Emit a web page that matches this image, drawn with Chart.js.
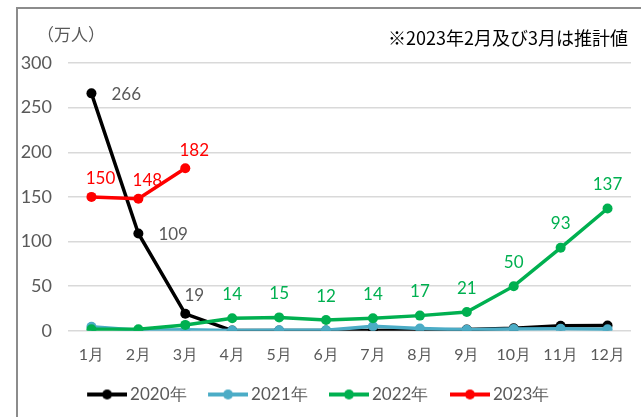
<!DOCTYPE html>
<html>
<head>
<meta charset="utf-8">
<script src="https://cdn.jsdelivr.net/npm/chart.js@4"></script>
<style>
  body { margin: 0; background: #fff; }
  #wrap { position: relative; width: 641px; height: 417px; overflow: hidden; }
  #frame { position: absolute; left: 16px; top: 7px; width: 700px; height: 500px; border: 2px solid #8c8c8c; box-sizing: border-box; }
  #unit { position: absolute; left: 37px; top: 21px; font: 17px "Noto Sans CJK JP"; color: #595959; }
  #note { position: absolute; right: 13px; top: 24px; font: 18px "Noto Sans CJK JP"; color: #000; }
  canvas { position: absolute; left: 0; top: 0; }
</style>
</head>
<body>
<div id="wrap">
  <div id="frame"></div>
  <canvas id="chart" width="641" height="417"></canvas>
  <div id="unit">（万人）</div>
  <div id="note">※2023年2月及び3月は推計値</div>
</div>
<script>
// Data
const months = ['1月', '2月', '3月', '4月', '5月', '6月', '7月', '8月', '9月', '10月', '11月', '12月'];
const y2020 = [266, 109, 19, 0.3, 0.2, 0.3, 0.4, 0.9, 1.4, 2.8, 5.7, 5.8];
const y2021 = [4.6, 0.7, 1.2, 0.4, 0.6, 0.6, 5.1, 2.6, 1.2, 1.9, 2.2, 1.8];
const y2022 = [1.7, 1.7, 6.6, 14, 15, 12, 14, 17, 21, 50, 93, 137];
const y2023 = [150, 148, 182];
const yTicks = [0, 50, 100, 150, 200, 250, 300];

const series = [
    { label: '2020年', data: y2020, color: '#000000' },
    { label: '2021年', data: y2021, color: '#4bacc6' },
    { label: '2022年', data: y2022, color: '#00b050' },
    { label: '2023年', data: y2023, color: '#ff0000' }
];

// which points get a value label, and where
const labelRules = {
    0: { color: '#595959', show: i => i < 3, pos: i => (i < 2 ? 'right' : 'aboveRight') },
    2: { color: '#00b050', show: i => i >= 3, pos: () => 'above' },
    3: { color: '#ff0000', show: () => true, pos: () => 'aboveRight' }
};

// legend marker: line with a dot (wider than the legend box so it sits close to the text)
function makeMarker(color) {
    const c = document.createElement('canvas');
    c.width = 51; c.height = 12;
    const g = c.getContext('2d');
    g.strokeStyle = color;
    g.lineWidth = 4;
    g.beginPath(); g.moveTo(11, 6); g.lineTo(51, 6); g.stroke();
    g.fillStyle = color;
    g.beginPath(); g.arc(31, 6, 5, 0, Math.PI * 2); g.fill();
    return c;
}

const valueLabels = {
    id: 'valueLabels',
    afterDatasetsDraw(chart) {
        const ctx = chart.ctx;
        ctx.save();
        ctx.font = '17px Lato';
        ctx.textBaseline = 'middle';
        Object.keys(labelRules).forEach(k => {
            const rule = labelRules[k];
            const meta = chart.getDatasetMeta(+k);
            meta.data.forEach((pt, i) => {
                if (!rule.show(i)) return;
                const v = chart.data.datasets[k].data[i];
                const p = rule.pos(i);
                ctx.fillStyle = rule.color;
                if (p === 'right') {
                    ctx.textAlign = 'left';
                    ctx.fillText(v, pt.x + 20, pt.y + 1);
                } else if (p === 'aboveRight') {
                    ctx.textAlign = 'center';
                    ctx.fillText(v, pt.x + 9, pt.y - 18);
                } else {
                    ctx.textAlign = 'center';
                    ctx.fillText(v, pt.x, pt.y - 24);
                }
            });
        });
        ctx.restore();
    }
};

const ctx = document.getElementById('chart').getContext('2d');
const chart = new Chart(ctx, {
    type: 'line',
    data: {
        labels: months,
        datasets: series.map((s, i) => ({
            label: s.label,
            data: s.data,
            borderColor: s.color,
            backgroundColor: s.color,
            borderWidth: 3.5,
            pointRadius: 5,
            pointHoverRadius: 5,
            pointBorderWidth: 0,
            tension: 0,
            order: series.length - i
        }))
    },
    options: {
        responsive: false,
        animation: false,
        layout: { padding: { top: 63, right: 10, left: 0, bottom: 4 } },
        plugins: {
            tooltip: { enabled: false },
            legend: {
                position: 'bottom',
                labels: {
                    usePointStyle: true,
                    pointStyleWidth: 40,
                    padding: 16,
                    color: '#595959',
                    font: { family: 'Lato', size: 17 },
                    generateLabels: c => c.data.datasets.map((d, i) => ({
                        text: d.label,
                        fillStyle: d.borderColor,
                        strokeStyle: d.borderColor,
                        pointStyle: makeMarker(d.borderColor),
                        fontColor: '#595959',
                        hidden: false,
                        datasetIndex: i
                    }))
                }
            }
        },
        scales: {
            x: {
                offset: true,
                grid: { display: false },
                border: { display: false },
                ticks: { color: '#595959', font: { family: 'Lato', size: 16 }, padding: 6 }
            },
            y: {
                min: 0,
                max: 300,
                afterFit: s => { s.width = 68; },
                afterBuildTicks: s => { s.ticks = yTicks.map(v => ({ value: v })); },
                grid: { color: '#d9d9d9', lineWidth: 1.5, drawTicks: false },
                border: { display: false },
                ticks: { color: '#595959', font: { family: 'Lato', size: 18 }, padding: 16 }
            }
        }
    },
    plugins: [valueLabels]
});
</script>
</body>
</html>
